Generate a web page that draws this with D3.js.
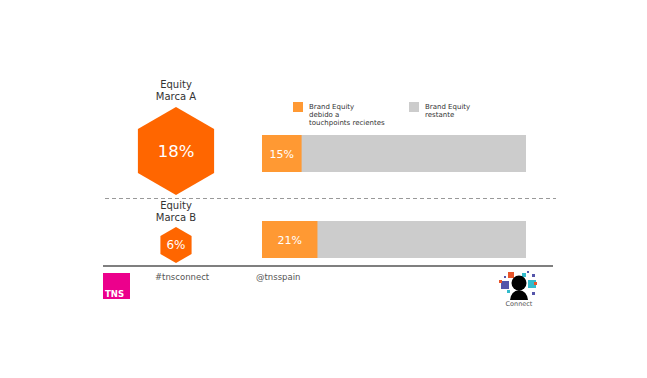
<!DOCTYPE html>
<html lang="es">
<head>
<meta charset="UTF-8">
<title>Brand Equity</title>
<script src="https://d3js.org/d3.v7.min.js"></script>
<style>
  body { margin: 0; background: #fff; }
  text { font-family: "DejaVu Sans", Verdana, sans-serif; }
</style>
</head>
<body>
<svg width="647" height="378"></svg>
<script>
// data
const brands = ["Marca A", "Marca B"];
const equity = [18, 6];            // % equity de la marca (hexágono)
const touchpoints = [15, 21];      // % debido a touchpoints recientes
const legendLabels = [["Brand Equity", "debido a", "touchpoints recientes"], ["Brand Equity", "restante"]];
const footerTags = ["#tnsconnect", "@tnsspain"];

const svg = d3.select("svg");
const colHex = "#ff6600", colBar = "#ff9933", colRest = "#cccccc";

const x = d3.scaleLinear().domain([0, 100]).range([262, 526]);
const rowY = d3.scaleOrdinal().domain(brands).range([135, 221]);   // top of bar
const hexY = d3.scaleOrdinal().domain(brands).range([151, 245]);
const labelY = d3.scaleOrdinal().domain(brands).range([88, 209]);
const hexR = d3.scaleLinear().domain([6, 18]).range([18, 44]);
const barH = 37, hexX = 176;

function hexPath(cx, cy, r) {
  const pts = d3.range(6).map(i => {
    const a = Math.PI / 3 * i - Math.PI / 2;
    return [cx + r * Math.cos(a), cy + r * Math.sin(a)];
  });
  return d3.line()(pts) + "Z";
}

const rows = brands.map((b, i) => ({ brand: b, equity: equity[i], tp: touchpoints[i] }));

// separators
svg.append("line").attr("x1", 105).attr("x2", 556).attr("y1", 198.5).attr("y2", 198.5)
  .attr("stroke", "#999").attr("stroke-dasharray", "4,3");
svg.append("line").attr("x1", 103).attr("x2", 553).attr("y1", 266).attr("y2", 266)
  .attr("stroke", "#555").attr("stroke-width", 1.5);

// hexagons
const g = svg.selectAll(".row").data(rows).enter().append("g");
g.append("path").attr("d", d => hexPath(hexX, hexY(d.brand), hexR(d.equity))).attr("fill", colHex);
g.append("text").attr("x", hexX).attr("y", d => hexY(d.brand)).attr("dy", "0.36em")
  .attr("text-anchor", "middle").attr("fill", "#fff")
  .attr("font-size", d => d.equity > 10 ? 16.5 : 12)
  .text(d => d.equity + "%");
g.append("text").attr("x", hexX).attr("y", d => labelY(d.brand)).attr("text-anchor", "middle")
  .attr("font-size", 10).attr("fill", "#333")
  .selectAll("tspan").data(d => ["Equity", d.brand]).enter().append("tspan")
  .attr("x", hexX).attr("dy", (t, i) => i ? 11.5 : 0).text(t => t);

// bars
g.append("rect").attr("x", x(0)).attr("y", d => rowY(d.brand)).attr("width", x(100) - x(0))
  .attr("height", barH).attr("fill", colRest);
g.append("rect").attr("x", x(0)).attr("y", d => rowY(d.brand)).attr("width", d => x(d.tp) - x(0))
  .attr("height", barH).attr("fill", colBar);
g.append("text").attr("x", d => (x(0) + x(d.tp)) / 2).attr("y", d => rowY(d.brand) + barH / 2 + 1)
  .attr("dy", "0.36em").attr("text-anchor", "middle").attr("fill", "#fff").attr("font-size", 11)
  .text(d => d.tp + "%");

// legend
const lg = svg.selectAll(".lg").data(legendLabels).enter().append("g")
  .attr("transform", (d, i) => `translate(${i ? 409 : 293},102)`);
lg.append("rect").attr("width", 10).attr("height", 10).attr("fill", (d, i) => i ? colRest : colBar);
lg.append("text").attr("x", 16).attr("y", 7).attr("font-size", 7).attr("fill", "#333")
  .selectAll("tspan").data(d => d).enter().append("tspan")
  .attr("x", 16).attr("dy", (t, i) => i ? 8 : 0).text(t => t);

// footer
svg.append("rect").attr("x", 103).attr("y", 273).attr("width", 27).attr("height", 26).attr("fill", "#ec008c");
svg.append("text").attr("x", 105).attr("y", 297).attr("fill", "#fff").attr("font-size", 8.5)
  .attr("font-weight", "bold").text("TNS");
svg.selectAll(".tag").data(footerTags).enter().append("text")
  .attr("x", (d, i) => i ? 256 : 155).attr("y", 280).attr("font-size", 8.5).attr("fill", "#555").text(d => d);

// connect icon
const ic = svg.append("g").attr("transform", "translate(498,268)");
[[10, 4, 6, "#e8542a"], [24, 5, 4, "#33bbcc"], [3, 13, 8, "#5555aa"], [1, 12, 3, "#e8542a"], [30, 12, 8, "#33bbcc"],
 [34, 6, 3, "#5555aa"], [36, 14, 3, "#e8542a"], [6, 8, 2, "#5555aa"], [34, 24, 3, "#5555aa"], [9, 22, 3, "#33bbcc"],
 [29, 3, 2, "#5555aa"]]
  .forEach(s => ic.append("rect").attr("x", s[0]).attr("y", s[1]).attr("width", s[2]).attr("height", s[2]).attr("fill", s[3]));
ic.append("circle").attr("cx", 21).attr("cy", 15).attr("r", 7.5).attr("fill", "#000");
ic.append("path").attr("d", "M12,32 Q13,23 21,22 Q29,23 30,32 Z").attr("fill", "#000");
svg.append("text").attr("x", 519).attr("y", 306).attr("text-anchor", "middle").attr("font-size", 6.5)
  .attr("fill", "#555").text("Connect");
</script>
</body>
</html>
